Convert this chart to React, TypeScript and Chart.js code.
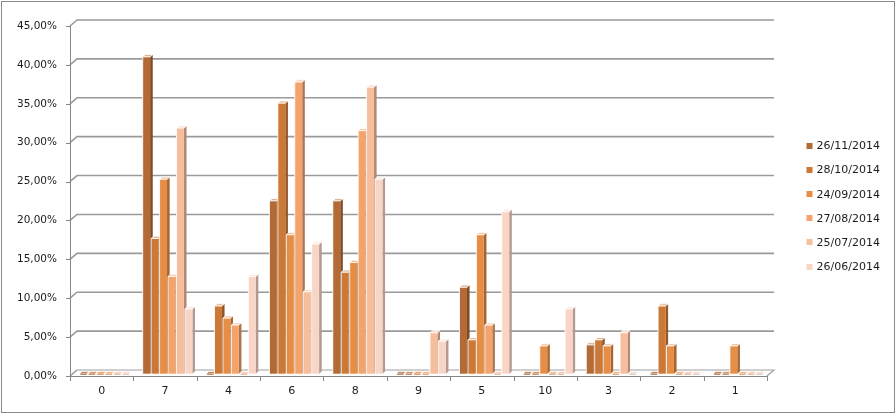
import React, { useEffect, useRef } from 'react';
import { Chart, registerables } from 'chart.js';

Chart.register(...registerables);

const categories = ['0', '7', '4', '6', '8', '9', '5', '10', '3', '2', '1'];
const seriesLabels = ['26/11/2014', '28/10/2014', '24/09/2014', '27/08/2014', '25/07/2014', '26/06/2014'];
const s26_11 = [0, 40.74, 0, 22.22, 22.22, 0, 11.11, 0, 3.7, 0, 0];
const s28_10 = [0, 17.39, 8.7, 34.78, 13.04, 0, 4.35, 0, 4.35, 8.7, 0];
const s24_09 = [0, 25.0, 7.14, 17.86, 14.29, 0, 17.86, 3.57, 3.57, 3.57, 3.57];
const s27_08 = [0, 12.5, 6.25, 37.5, 31.25, 0, 6.25, 0, 0, 0, 0];
const s25_07 = [0, 31.58, 0, 10.53, 36.84, 5.26, 0, 0, 5.26, 0, 0];
const s26_06 = [0, 8.33, 12.5, 16.67, 25.0, 4.17, 20.83, 8.33, 0, 0, 0];
const yTicks = [0, 5, 10, 15, 20, 25, 30, 35, 40, 45];

const seriesValues = [s26_11, s28_10, s24_09, s27_08, s25_07, s26_06];
const seriesColors = ['#B36A34', '#CC7837', '#E68D46', '#F3A46C', '#F7BE9E', '#F9D5C6'];

const FONT = 'DejaVu Sans';

function hexToRgb(h: string) {
  const n = parseInt(h.slice(1), 16);
  return [(n >> 16) & 255, (n >> 8) & 255, n & 255];
}
function shade(h: string, f: number) {
  const [r, g, b] = hexToRgb(h);
  return `rgb(${Math.round(r * f)},${Math.round(g * f)},${Math.round(b * f)})`;
}
function tint(h: string, f: number) {
  const [r, g, b] = hexToRgb(h);
  return `rgb(${Math.round(r + (255 - r) * f)},${Math.round(g + (255 - g) * f)},${Math.round(b + (255 - b) * f)})`;
}

const WX = 7;
const WY = -6;
const BX = 2.5;
const BY = -2.3;
const DX = 2.6;
const DY = -2.2;

const threeD = {
  id: 'threeD',
  beforeDraw(chart: any) {
    const { ctx, width, height } = chart;
    ctx.save();
    ctx.fillStyle = '#ffffff';
    ctx.fillRect(0, 0, width, height);
    ctx.strokeStyle = '#8a8a8a';
    ctx.lineWidth = 1;
    ctx.strokeRect(1.5, 1.5, width - 3, height - 3);
    ctx.restore();
  },
  beforeDatasetsDraw(chart: any) {
    const { ctx, chartArea } = chart;
    const ys = chart.scales.y;
    const xs = chart.scales.x;
    const L = chartArea.left;
    const R = chartArea.right;
    const B = chartArea.bottom;
    ctx.save();
    ctx.lineWidth = 1.6;
    ctx.strokeStyle = '#9a9a9a';
    yTicks.forEach((v) => {
      const py = ys.getPixelForValue(v);
      ctx.beginPath();
      ctx.moveTo(L, py);
      ctx.lineTo(L + WX, py + WY);
      if (v !== 0) ctx.lineTo(R + WX, py + WY);
      ctx.stroke();
    });
    ctx.strokeStyle = '#a0a0a0';
    ctx.lineWidth = 1.2;
    ctx.beginPath();
    ctx.moveTo(L + WX, B + WY);
    ctx.lineTo(R + WX, B + WY);
    ctx.lineTo(R, B);
    ctx.stroke();
    ctx.strokeStyle = '#868686';
    ctx.lineWidth = 1;
    ctx.beginPath();
    ctx.moveTo(L + 0.5, ys.getPixelForValue(45));
    ctx.lineTo(L + 0.5, B);
    yTicks.forEach((v) => {
      const py = Math.round(ys.getPixelForValue(v)) + 0.5;
      ctx.moveTo(L - 4, py);
      ctx.lineTo(L, py);
    });
    ctx.stroke();
    ctx.beginPath();
    ctx.moveTo(L, Math.round(B) + 0.5);
    ctx.lineTo(R, Math.round(B) + 0.5);
    const step = xs.getPixelForValue(1) - xs.getPixelForValue(0);
    for (let i = 0; i <= categories.length; i++) {
      const px = i < categories.length ? xs.getPixelForValue(i) - step / 2 : R;
      const rx = Math.round(px) + 0.5;
      ctx.moveTo(rx, B);
      ctx.lineTo(rx, B + 5);
    }
    ctx.stroke();

    for (let i = 0; i < categories.length; i++) {
      for (let j = 0; j < seriesValues.length; j++) {
        const meta = chart.getDatasetMeta(j);
        const el = meta.data[i];
        if (!el) continue;
        const p = el.getProps(['x', 'y', 'base', 'width'], true);
        const col = seriesColors[j];
        const l = p.x - p.width / 2 + BX;
        const r = p.x + p.width / 2 + BX;
        const t = p.y + BY;
        const b = p.base + BY;
        const hasBody = b - t > 0.5;
        if (hasBody) {
          ctx.fillStyle = shade(col, 0.72);
          ctx.beginPath();
          ctx.moveTo(r, t);
          ctx.lineTo(r + DX, t + DY);
          ctx.lineTo(r + DX, b + DY);
          ctx.lineTo(r, b);
          ctx.closePath();
          ctx.fill();
        }
        ctx.fillStyle = hasBody ? tint(col, 0.45) : tint(col, 0.2);
        ctx.beginPath();
        ctx.moveTo(l, t);
        ctx.lineTo(l + DX, t + DY);
        ctx.lineTo(r + DX, t + DY);
        ctx.lineTo(r, t);
        ctx.closePath();
        ctx.fill();
        ctx.strokeStyle = 'rgba(255,255,255,0.9)';
        ctx.lineWidth = 0.8;
        ctx.stroke();
        if (hasBody) {
          ctx.fillStyle = col;
          ctx.fillRect(l, t, r - l, b - t);
          ctx.strokeStyle = 'rgba(255,255,255,0.95)';
          ctx.lineWidth = 0.9;
          ctx.beginPath();
          ctx.moveTo(l, b);
          ctx.lineTo(l, t);
          ctx.lineTo(r, t);
          ctx.stroke();
        } else {
          ctx.strokeStyle = shade(col, 0.85);
          ctx.lineWidth = 1;
          ctx.beginPath();
          ctx.moveTo(l + 1, b + 0.5);
          ctx.lineTo(r, b + 0.5);
          ctx.stroke();
        }
      }
    }
    ctx.restore();
    return false;
  },
  afterDraw(chart: any) {
    const { ctx } = chart;
    ctx.save();
    ctx.font = `11px "${FONT}"`;
    ctx.textBaseline = 'middle';
    ctx.textAlign = 'left';
    chart.data.datasets.forEach((ds: any, k: number) => {
      const cy = 146 + k * 24.1;
      ctx.fillStyle = ds.backgroundColor;
      ctx.fillRect(806.5, Math.round(cy) - 3, 6, 6);
      ctx.fillStyle = '#1b1b1b';
      ctx.fillText(ds.label, 816.5, cy + 0.5);
    });
    ctx.restore();
  },
};

export default function App() {
  const ref = useRef<HTMLCanvasElement | null>(null);
  useEffect(() => {
    if (!ref.current) return;
    const chart = new Chart(ref.current, {
      type: 'bar',
      data: {
        labels: categories,
        datasets: seriesValues.map((vals, k) => ({
          label: seriesLabels[k],
          data: vals,
          backgroundColor: seriesColors[k],
          categoryPercentage: 0.8,
          barPercentage: 0.88,
        })),
      },
      options: {
        responsive: false,
        animation: false,
        devicePixelRatio: 1,
        layout: { padding: { left: 0, top: 26, right: 129, bottom: 8 } },
        plugins: { legend: { display: false }, tooltip: { enabled: false } },
        scales: {
          x: {
            grid: { display: false, drawTicks: false },
            border: { display: false },
            ticks: { padding: 9, color: '#1b1b1b', font: { family: FONT, size: 11 } },
            afterFit: (s: any) => { s.height = 30; },
          },
          y: {
            min: 0,
            max: 45,
            grid: { display: false, drawTicks: false },
            border: { display: false },
            afterFit: (s: any) => { s.width = 70; },
            afterBuildTicks: (s: any) => { s.ticks = yTicks.map((v) => ({ value: v })); },
            ticks: {
              padding: 13,
              color: '#1b1b1b',
              font: { family: FONT, size: 10.5 },
              callback: (v: any) => Number(v).toFixed(2).replace('.', ',') + '%',
            },
          },
        },
      },
      plugins: [threeD],
    });
    return () => chart.destroy();
  }, []);
  return (
    <div style={{ position: 'fixed', left: 0, top: 0, width: 896, height: 414, background: '#fff' }}>
      <canvas ref={ref} width={896} height={414} style={{ display: 'block' }} />
    </div>
  );
}
